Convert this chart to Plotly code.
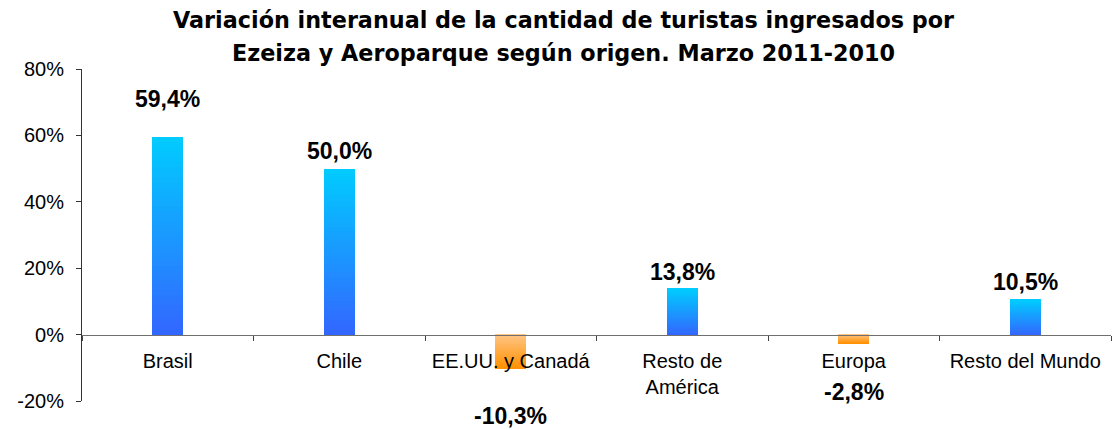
import plotly.graph_objects as go

categories = ["Brasil", "Chile", "EE.UU. y Canadá", "Resto de<br>América", "Europa", "Resto del Mundo"]
values = [59.4, 50.0, -10.3, 13.8, -2.8, 10.5]
y_tick_values = [-20, 0, 20, 40, 60, 80]
y_tick_labels = ["-20%", "0%", "20%", "40%", "60%", "80%"]
title_lines = ["Variación interanual de la cantidad de turistas ingresados por",
               "Ezeiza y Aeroparque según origen. Marzo 2011-2010"]

# label offsets in pixels from bar end
label_shift = [38, 18, -47, 17, -48, 18]

POS_TOP = (0, 204, 255)
POS_BOTTOM = (51, 102, 255)
NEG_TOP = (255, 198, 135)
NEG_BOTTOM = (255, 144, 0)
FONT = "Liberation Sans, Arial, sans-serif"
TITLE_FONT = "DejaVu Sans, sans-serif"


def mix(a, b, t):
    return "rgb({},{},{})".format(*[round(a[i] + (b[i] - a[i]) * t) for i in range(3)])


N = 40
fig = go.Figure()
for k in range(N):
    t = (k + 0.5) / N
    colors = [mix(POS_BOTTOM, POS_TOP, t) if v >= 0 else mix(NEG_TOP, NEG_BOTTOM, t) for v in values]
    fig.add_bar(
        x=categories,
        y=[v / N for v in values],
        width=0.178,
        marker=dict(color=colors, line=dict(width=0)),
        hoverinfo="skip",
        showlegend=False,
    )

for cat, v, s in zip(categories, values, label_shift):
    fig.add_annotation(
        x=cat, y=v, yshift=s, text="<b>{}%</b>".format(f"{v:.1f}".replace(".", ",")),
        showarrow=False, yanchor="middle", xanchor="center",
        font=dict(family=FONT, size=23, color="black"),
    )

for line, ypos in zip(title_lines, [1.149, 1.049]):
    fig.add_annotation(
        x=0.468, xref="paper", y=ypos, yref="paper", text="<b>" + line + "</b>",
        showarrow=False, xanchor="center", yanchor="middle",
        font=dict(family=TITLE_FONT, size=22.3, color="black"),
    )

fig.update_layout(
    width=1112, height=430,
    margin=dict(l=82, r=1, t=69, b=29, autoexpand=False),
    paper_bgcolor="white", plot_bgcolor="white",
    barmode="relative", bargap=0,
    font=dict(family=FONT, size=20, color="black"),
)
fig.update_xaxes(
    type="category", anchor="free", position=0.2, automargin=False,
    showline=True, linecolor="#707070", linewidth=1,
    ticks="outside", tickson="boundaries", ticklen=5, tickcolor="#444444",
    ticklabelstandoff=8,
    showgrid=False, zeroline=False, layer="above traces",
    tickfont=dict(family=FONT, size=20, color="black"),
)
fig.update_yaxes(
    range=[-20, 80], tickvals=y_tick_values, ticktext=y_tick_labels, automargin=False,
    showline=True, linecolor="#333333", linewidth=1,
    ticks="outside", ticklen=5, tickcolor="#333333",
    ticklabelstandoff=8,
    showgrid=False, zeroline=False,
    tickfont=dict(family=FONT, size=20, color="black"),
)

fig.write_html("out.html", config={"displayModeBar": False},
               post_script="document.body.style.margin='0';")
